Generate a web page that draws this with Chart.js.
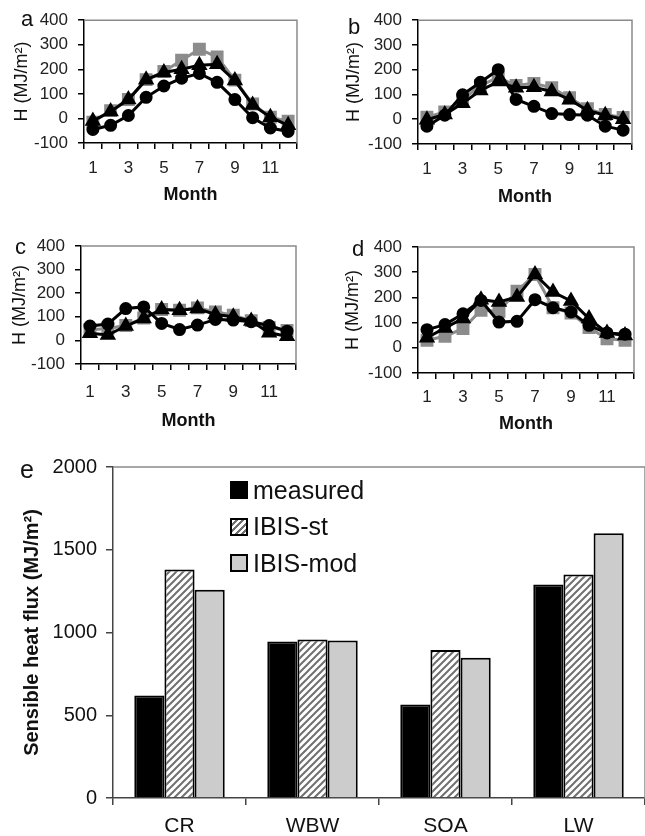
<!DOCTYPE html>
<html><head><meta charset="utf-8">
<script src="https://cdn.jsdelivr.net/npm/chart.js@4.4.1/dist/chart.umd.min.js"></script>
<style>
html,body{margin:0;padding:0;background:#fff;}
body{width:645px;height:836px;position:relative;overflow:hidden;font-family:"Liberation Sans",Arial,sans-serif;}
canvas{position:absolute;}
.lt{position:absolute;font-size:22px;color:#111;line-height:1;}
#legend{position:absolute;left:230px;top:472px;font-size:25px;color:#111;}
.li{display:flex;align-items:center;height:36.6px;white-space:nowrap;}
.sw{width:18px;height:18px;box-sizing:border-box;border:2px solid #000;margin-right:5px;}
</style></head><body>
<canvas id="ca" width="320" height="215" style="left:0;top:0"></canvas>
<canvas id="cb" width="325" height="215" style="left:320px;top:0"></canvas>
<canvas id="cc" width="320" height="215" style="left:0;top:220px"></canvas>
<canvas id="cd" width="325" height="215" style="left:320px;top:220px"></canvas>
<canvas id="ce" width="645" height="396" style="left:0;top:440px"></canvas>
<div class="lt" style="left:21px;top:8px">a</div>
<div class="lt" style="left:348px;top:16px">b</div>
<div class="lt" style="left:15px;top:236px">c</div>
<div class="lt" style="left:352px;top:238px">d</div>
<div class="lt" style="left:20px;top:457px;font-size:25px">e</div>
<div id="legend"></div>
<script>
// ---- data ----
const months = ['1','2','3','4','5','6','7','8','9','10','11','12'];
const seriesNames = ['measured','IBIS-st','IBIS-mod'];

const aMeasured = [-45,-28,12,86,132,164,183,147,77,3,-39,-53];
const aIbisSt   = [-10,28,77,158,187,200,217,221,154,55,5,-28];
const aIbisMod  = [-15,32,77,158,191,237,282,250,156,59,5,-11];

const bMeasured = [-28,16,99,149,200,80,52,23,19,16,-28,-44];
const bIbisSt   = [-2,19,65,116,152,127,129,112,79,36,16,0];
const bIbisMod  = [8,29,80,136,169,136,145,127,87,43,19,7];

const cMeasured = [61,69,135,142,72,46,65,89,86,79,63,39];
const cIbisSt   = [30,23,61,93,131,128,135,110,100,82,32,18];
const cIbisMod  = [45,50,63,95,131,128,138,121,107,84,55,42];

const dMeasured = [72,92,135,188,102,105,191,159,142,89,59,54];
const dIbisSt   = [40,79,116,191,182,202,291,221,186,116,59,49];
const dIbisMod  = [30,46,76,149,145,225,291,159,138,80,36,30];

const sites = ['CR','WBW','SOA','LW'];
const barMeasured = [620,946,565,1290];
const barIbisSt   = [1381,958,895,1350];
const barIbisMod  = [1258,952,847,1600];

// ---- setup ----
Chart.defaults.font.family = '"Liberation Sans", Arial, sans-serif';
Chart.defaults.color = '#222';

const frame = {
  id:'frame',
  afterDraw(chart){
    const {ctx, chartArea:a} = chart;
    ctx.save();
    ctx.strokeStyle = '#8a8a8a';
    ctx.lineWidth = 1.5;
    ctx.beginPath();
    ctx.moveTo(a.left, a.top);
    ctx.lineTo(a.right, a.top);
    ctx.lineTo(a.right, a.bottom);
    ctx.stroke();
    ctx.restore();
  }
};

function lineChart(id, measured, st, mod, cfg){
  new Chart(document.getElementById(id), {
    type:'line',
    data:{labels:months, datasets:[
      {label:seriesNames[0], data:measured, borderColor:'#000', backgroundColor:'#000', pointBorderColor:'#000', pointStyle:'circle', pointRadius:5, borderWidth:3, order:1},
      {label:seriesNames[1], data:st, borderColor:'#000', backgroundColor:'#000', pointBorderColor:'#000', pointStyle:'triangle', pointRadius:6.5, borderWidth:3, order:2},
      {label:seriesNames[2], data:mod, borderColor:'#8c8c8c', backgroundColor:'#8c8c8c', pointBorderColor:'#8c8c8c', pointStyle:'rect', pointRadius:7, borderWidth:3, order:3}
    ]},
    options:{
      responsive:false, animation:false,
      layout:{padding:cfg.pad},
      plugins:{legend:{display:false}, tooltip:{enabled:false}},
      scales:{
        x:{
          offset:true,
          grid:{offset:true, drawOnChartArea:false, drawTicks:true, tickLength:6, color:'#000', lineWidth:1.5},
          border:{color:'#000', width:1.5},
          ticks:{autoSkip:false, maxRotation:0, font:{size:17}, padding:cfg.tp, callback:(v,i)=> i%2===0 ? months[i] : ''},
          title:{display:true, text:'Month', font:{size:18, weight:'bold'}, color:'#111', padding:{top:0,bottom:0}},
          afterFit:s=>{s.height = cfg.xh;}
        },
        y:{
          min:-100, max:400,
          ticks:{stepSize:100, font:{size:17}, padding:10},
          grid:{drawOnChartArea:false, tickLength:6, color:'#000', lineWidth:1.5},
          border:{color:'#000', width:1.5},
          title:{display:true, text:'H (MJ/m²)', font:{size:18}, color:'#111', padding:{top:cfg.tt, bottom:0}},
          afterFit:s=>{s.width = cfg.yw;}
        }
      }
    },
    plugins:[frame]
  });
}

lineChart('ca', aMeasured, aIbisSt, aIbisMod, {pad:{left:0,right:23,top:19,bottom:9}, xh:63, yw:84, tt:11, tp:9});
lineChart('cb', bMeasured, bIbisSt, bIbisMod, {pad:{left:0,right:13,top:19,bottom:7}, xh:64, yw:98, tt:23, tp:9});
lineChart('cc', cMeasured, cIbisSt, cIbisMod, {pad:{left:0,right:24,top:26,bottom:3}, xh:68, yw:81, tt:9, tp:12});
lineChart('cd', dMeasured, dIbisSt, dIbisMod, {pad:{left:0,right:11,top:27,bottom:0}, xh:62, yw:98, tt:22, tp:8});

// hatch pattern
function makeHatch(){
  const t = document.createElement('canvas');
  t.width = 7; t.height = 7;
  const c = t.getContext('2d');
  c.fillStyle = '#fff'; c.fillRect(0,0,7,7);
  c.strokeStyle = '#707070'; c.lineWidth = 2;
  c.beginPath();
  c.moveTo(0,7); c.lineTo(7,0);
  c.moveTo(-1,1); c.lineTo(1,-1);
  c.moveTo(6,8); c.lineTo(8,6);
  c.stroke();
  return document.getElementById('ce').getContext('2d').createPattern(t,'repeat');
}
const hatch = makeHatch();
const barFills = ['#000', hatch, '#cccccc'];

new Chart(document.getElementById('ce'), {
  type:'bar',
  data:{labels:sites, datasets:[
    {label:seriesNames[0], data:barMeasured, backgroundColor:barFills[0], borderColor:'#000', borderWidth:2},
    {label:seriesNames[1], data:barIbisSt, backgroundColor:barFills[1], borderColor:'#000', borderWidth:2},
    {label:seriesNames[2], data:barIbisMod, backgroundColor:barFills[2], borderColor:'#000', borderWidth:2}
  ]},
  options:{
    responsive:false, animation:false,
    categoryPercentage:0.68, barPercentage:1.0,
    layout:{padding:{left:0,right:0,top:27,bottom:0}},
    plugins:{legend:{display:false}, tooltip:{enabled:false}},
    scales:{
      x:{
        grid:{offset:true, drawOnChartArea:false, tickLength:7, color:'#444', lineWidth:1.5},
        border:{color:'#444', width:1.5},
        ticks:{font:{size:21}, padding:9, color:'#111'},
        afterFit:s=>{s.height = 38;}
      },
      y:{
        min:0, max:2000,
        ticks:{stepSize:500, font:{size:20}, padding:9, color:'#111', callback:v=>String(v)},
        grid:{drawOnChartArea:false, tickLength:7, color:'#444', lineWidth:1.5},
        border:{color:'#444', width:1.5},
        title:{display:true, text:'Sensible heat flux (MJ/m²)', font:{size:20, weight:'bold'}, color:'#111', padding:{top:20,bottom:0}},
        afterFit:s=>{s.width = 113;}
      }
    }
  },
  plugins:[frame]
});

// HTML legend built from series names
const swStyles = ['background:#000', 'background:repeating-linear-gradient(135deg,#fff 0 2.5px,#707070 2.5px 4.5px)', 'background:#cccccc'];
document.getElementById('legend').innerHTML = seriesNames.map((n,i)=>
  '<div class="li"><span class="sw" style="'+swStyles[i]+'"></span><span>'+n+'</span></div>').join('');
</script>
</body></html>
